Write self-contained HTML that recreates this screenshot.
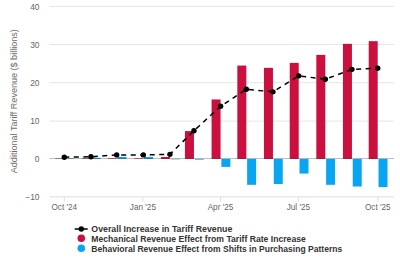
<!DOCTYPE html>
<html><head><meta charset="utf-8"><style>
html,body{margin:0;padding:0;background:#fff;width:400px;height:267px;overflow:hidden}
svg{display:block}
text{font-family:"Liberation Sans",sans-serif}
.yl{font-size:8.4px;fill:#666}
.xl{font-size:8.2px;fill:#666}
.yt{font-size:8.3px;fill:#6e6e6e}
.lg{font-size:8.7px;font-weight:bold;fill:#333}
</style></head><body>
<svg width="400" height="267" viewBox="0 0 400 267">
<line x1="49.5" x2="394" y1="6.50" y2="6.50" stroke="#e6e6e6" stroke-width="1"/>
<line x1="49.5" x2="394" y1="44.50" y2="44.50" stroke="#e6e6e6" stroke-width="1"/>
<line x1="49.5" x2="394" y1="82.70" y2="82.70" stroke="#e6e6e6" stroke-width="1"/>
<line x1="49.5" x2="394" y1="121.10" y2="121.10" stroke="#e6e6e6" stroke-width="1"/>
<line x1="49.5" x2="394" y1="196.90" y2="196.90" stroke="#e3e3e8" stroke-width="1.1"/>
<line x1="64.30" x2="64.30" y1="196.90" y2="201.70" stroke="#e0e0e6" stroke-width="1"/>
<line x1="142.90" x2="142.90" y1="196.90" y2="201.70" stroke="#e0e0e6" stroke-width="1"/>
<line x1="220.50" x2="220.50" y1="196.90" y2="201.70" stroke="#e0e0e6" stroke-width="1"/>
<line x1="298.40" x2="298.40" y1="196.90" y2="201.70" stroke="#e0e0e6" stroke-width="1"/>
<line x1="377.80" x2="377.80" y1="196.90" y2="201.70" stroke="#e0e0e6" stroke-width="1"/>
<text x="39.5" y="9.70" text-anchor="end" class="yl">40</text>
<text x="39.5" y="47.70" text-anchor="end" class="yl">30</text>
<text x="39.5" y="85.90" text-anchor="end" class="yl">20</text>
<text x="39.5" y="124.30" text-anchor="end" class="yl">10</text>
<text x="39.5" y="161.70" text-anchor="end" class="yl">0</text>
<text x="39.5" y="200.10" text-anchor="end" class="yl">−10</text>
<text x="64.30" y="209.8" text-anchor="middle" class="xl">Oct '24</text>
<text x="142.90" y="209.8" text-anchor="middle" class="xl">Jan '25</text>
<text x="220.50" y="209.8" text-anchor="middle" class="xl">Apr '25</text>
<text x="298.40" y="209.8" text-anchor="middle" class="xl">Jul '25</text>
<text x="377.80" y="209.8" text-anchor="middle" class="xl">Oct '25</text>
<text transform="translate(16.8,101.2) rotate(-90)" text-anchor="middle" class="yt" textLength="144" lengthAdjust="spacingAndGlyphs">Additional Tariff Revenue ($ billions)</text>
<rect x="55.30" y="158.44" width="9" height="0.46" fill="#c9103e"/>
<rect x="65.10" y="158.33" width="9" height="0.57" fill="#0aa5f0"/>
<rect x="81.92" y="158.33" width="9" height="0.57" fill="#c9103e"/>
<rect x="91.72" y="157.76" width="9" height="1.14" fill="#0aa5f0"/>
<rect x="107.68" y="158.33" width="9" height="0.57" fill="#c9103e"/>
<rect x="117.48" y="157.00" width="9" height="1.91" fill="#0aa5f0"/>
<rect x="134.29" y="158.33" width="9" height="0.57" fill="#c9103e"/>
<rect x="144.09" y="157.00" width="9" height="1.91" fill="#0aa5f0"/>
<rect x="160.91" y="157.00" width="9" height="1.91" fill="#c9103e"/>
<rect x="170.71" y="158.90" width="9" height="0.46" fill="#0aa5f0"/>
<rect x="184.95" y="131.09" width="9" height="27.81" fill="#c9103e"/>
<rect x="194.75" y="158.90" width="9" height="0.76" fill="#0aa5f0"/>
<rect x="211.57" y="99.46" width="9" height="59.44" fill="#c9103e"/>
<rect x="221.37" y="158.90" width="9" height="8.00" fill="#0aa5f0"/>
<rect x="237.33" y="65.56" width="9" height="93.34" fill="#c9103e"/>
<rect x="247.13" y="158.90" width="9" height="25.91" fill="#0aa5f0"/>
<rect x="263.95" y="67.84" width="9" height="91.06" fill="#c9103e"/>
<rect x="273.75" y="158.90" width="9" height="25.15" fill="#0aa5f0"/>
<rect x="289.71" y="62.89" width="9" height="96.01" fill="#c9103e"/>
<rect x="299.51" y="158.90" width="9" height="14.67" fill="#0aa5f0"/>
<rect x="316.32" y="54.89" width="9" height="104.01" fill="#c9103e"/>
<rect x="326.12" y="158.90" width="9" height="25.91" fill="#0aa5f0"/>
<rect x="342.94" y="43.84" width="9" height="115.06" fill="#c9103e"/>
<rect x="352.74" y="158.90" width="9" height="27.62" fill="#0aa5f0"/>
<rect x="368.70" y="41.17" width="9" height="117.73" fill="#c9103e"/>
<rect x="378.50" y="158.90" width="9" height="28.19" fill="#0aa5f0"/>
<line x1="49.5" x2="394" y1="158.5" y2="158.5" stroke="#000" stroke-opacity="0.25" stroke-width="1"/>
<polyline points="64.30,157.19 90.92,156.80 116.68,154.90 143.29,154.90 169.91,154.33 193.95,130.71 220.57,106.32 246.33,89.18 272.95,91.84 298.71,75.84 325.32,79.27 351.94,69.37 377.70,68.22" fill="none" stroke="#000" stroke-width="1.5" stroke-dasharray="5,4.5"/>
<circle cx="64.30" cy="157.19" r="2.7" fill="#000"/>
<circle cx="90.92" cy="156.80" r="2.7" fill="#000"/>
<circle cx="116.68" cy="154.90" r="2.7" fill="#000"/>
<circle cx="143.29" cy="154.90" r="2.7" fill="#000"/>
<circle cx="169.91" cy="154.33" r="2.7" fill="#000"/>
<circle cx="193.95" cy="130.71" r="2.7" fill="#000"/>
<circle cx="220.57" cy="106.32" r="2.7" fill="#000"/>
<circle cx="246.33" cy="89.18" r="2.7" fill="#000"/>
<circle cx="272.95" cy="91.84" r="2.7" fill="#000"/>
<circle cx="298.71" cy="75.84" r="2.7" fill="#000"/>
<circle cx="325.32" cy="79.27" r="2.7" fill="#000"/>
<circle cx="351.94" cy="69.37" r="2.7" fill="#000"/>
<circle cx="377.70" cy="68.22" r="2.7" fill="#000"/>
<line x1="74.7" x2="87.7" y1="229" y2="229" stroke="#000" stroke-width="1.5"/>
<circle cx="81.3" cy="229" r="2.7" fill="#000"/>
<circle cx="81.3" cy="238.2" r="3.8" fill="#c9103e"/>
<circle cx="81.3" cy="248.2" r="3.8" fill="#0aa5f0"/>
<text x="91.3" y="231.7" class="lg" textLength="141" lengthAdjust="spacingAndGlyphs">Overall Increase in Tariff Revenue</text>
<text x="91.3" y="241.5" class="lg" textLength="214.5" lengthAdjust="spacingAndGlyphs">Mechanical Revenue Effect from Tariff Rate Increase</text>
<text x="91.3" y="251.7" class="lg" textLength="251" lengthAdjust="spacingAndGlyphs">Behavioral Revenue Effect from Shifts in Purchasing Patterns</text>
</svg>
</body></html>
